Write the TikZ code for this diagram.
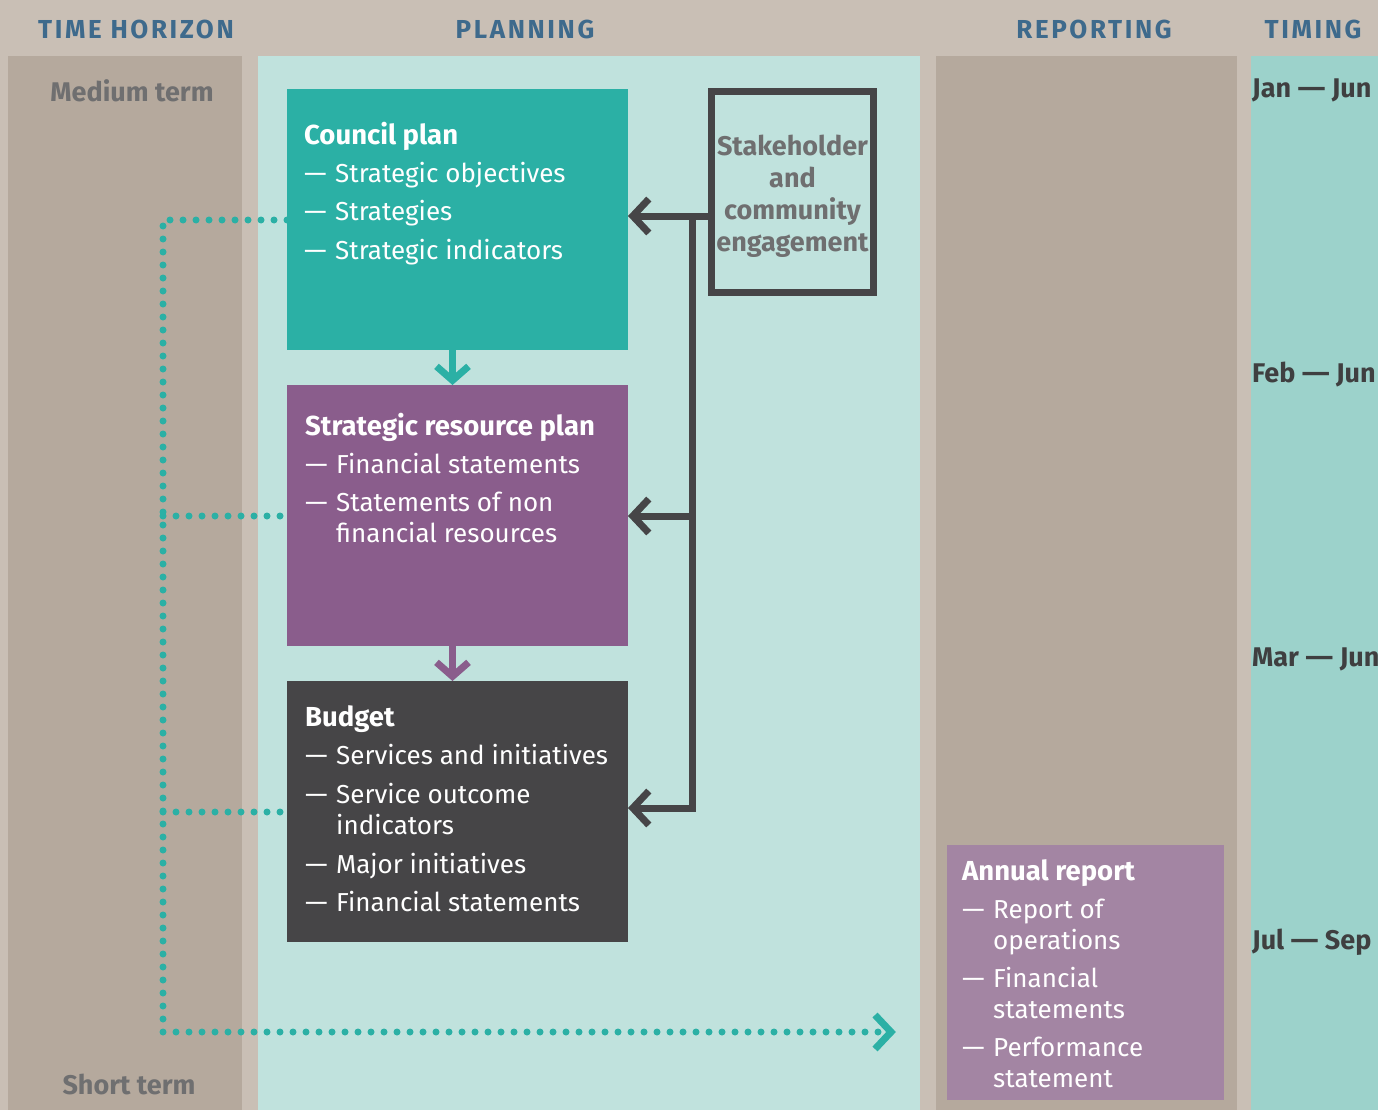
\documentclass[tikz,border=0pt]{standalone}
\usepackage{fontspec}
\setmainfont{Fira Sans}
\usetikzlibrary{arrows.meta}
\definecolor{bgtaupe}{HTML}{C9BFB5}
\definecolor{coltaupe}{HTML}{B5A99D}
\definecolor{planteal}{HTML}{C0E2DD}
\definecolor{timingteal}{HTML}{9CD2CB}
\definecolor{headblue}{HTML}{3E6A8C}
\definecolor{medgray}{HTML}{6F6F70}
\definecolor{councilteal}{HTML}{2BB0A5}
\definecolor{srppurple}{HTML}{8A5D8C}
\definecolor{budgetgray}{HTML}{464547}
\definecolor{reportpurple}{HTML}{A385A3}
\definecolor{dategray}{HTML}{3F3F40}
\newcommand{\longdash}{\scalebox{1.3}[1]{—}}
\newcommand{\dashitem}{\makebox[31pt][l]{\scalebox{1.1}[1]{—}}}
\newcommand{\contline}{\hspace*{31pt}}
\newcommand{\boxtitle}[1]{{\fontsize{27.5}{31}\selectfont\bfseries #1}}
\tikzset{
    heading/.style={text=headblue, inner sep=0pt, font=\fontsize{26}{30}\selectfont\bfseries\addfontfeature{LetterSpace=10}},
    termlabel/.style={text=medgray, inner sep=0pt, font=\fontsize{27}{31}\selectfont\bfseries},
    datelabel/.style={text=dategray, anchor=west, inner sep=0pt, font=\fontsize{27}{31}\selectfont\bfseries},
    planbox/.style={anchor=north west, minimum width=341pt, minimum height=261pt, inner sep=0pt, outer sep=0pt},
    boxtext/.style={anchor=north west, inner sep=0pt, text=white, align=left, font=\fontsize{26}{31}\selectfont},
    engagebox/.style={draw=budgetgray, line width=7pt, minimum width=162pt, minimum height=201pt, inner sep=0pt},
    engagetext/.style={inner sep=0pt, align=center, text=medgray, font=\fontsize{27}{32}\selectfont\bfseries},
    feed/.style={draw=budgetgray, line width=7pt, line join=miter},
    feedtip/.style={-{Straight Barb[length=16pt,width=34pt]}},
    flow/.style={line width=7pt, -{Straight Barb[length=14pt,width=32pt]}},
    dotline/.style={draw=councilteal, line width=7pt, line cap=round, dash pattern=on 0pt off 13pt},
}
\begin{document}
\begin{tikzpicture}[x=1pt,y=-1pt]
    \useasboundingbox (0,0) rectangle (1378,1110);
    \fill[bgtaupe] (0,0) rectangle (1378,1110);
    % columns
    \fill[coltaupe] (8,56) rectangle (242,1110);
    \fill[planteal] (258,56) rectangle (920,1110);
    \fill[coltaupe] (936,56) rectangle (1237,1110);
    \fill[timingteal] (1251,56) rectangle (1378,1110);

    \node[heading] (horizon) at (136,29) {TIME HORIZON};
    \node[heading] (planning) at (525,29) {PLANNING};
    \node[heading] (reporting) at (1094,29) {REPORTING};
    \node[heading] (timing) at (1313,29) {TIMING};

    \node[termlabel] (medium) at (132,91) {Medium term};
    \node[termlabel] (short) at (129,1084) {Short term};

    % planning boxes
    \node[planbox, fill=councilteal] (council) at (287,89) {};
    \node[planbox, fill=srppurple] (srp) at (287,385) {};
    \node[planbox, fill=budgetgray] (budget) at (287,681) {};
    \node[boxtext] (council text) at (304,121.5) {\boxtitle{Council plan}\\[7pt]
        \dashitem Strategic objectives\\[7pt]
        \dashitem Strategies\\[8pt]
        \dashitem Strategic indicators};
    \node[boxtext] (srp text) at (305,412.5) {\boxtitle{Strategic resource plan}\\[7pt]
        \dashitem Financial statements\\[7pt]
        \dashitem Statements of non\\
        \contline financial resources};
    \node[boxtext] (budget text) at (305,705.5) {\boxtitle{Budget}\\[7pt]
        \dashitem Services and initiatives\\[8pt]
        \dashitem Service outcome\\
        \contline indicators\\[8pt]
        \dashitem Major initiatives\\[7pt]
        \dashitem Financial statements};
    \draw[flow, councilteal] ([xshift=-5pt]council.south) -- ([xshift=-5pt]srp.north);
    \draw[flow, srppurple] ([xshift=-5pt]srp.south) -- ([xshift=-5pt]budget.north);

    % engagement feeding the three plans
    \node[engagebox] (engage) at (792.5,192) {};
    \node[engagetext] (engage text) at (792.5,196) {Stakeholder\\and\\community\\engagement};
    \coordinate (spine top) at (692,216);
    \coordinate (spine mid) at (692,516);
    \coordinate (spine low) at (692,808);
    \draw[feed, feedtip] (engage.west |- spine top) -- (council.east |- spine top);
    \draw[feed, feedtip] (spine top) -- (spine low) -- (budget.east |- spine low);
    \draw[feed, feedtip] (spine mid) -- (srp.east |- spine mid);

    % dotted link to reporting
    \coordinate (dot top) at (163,220);
    \coordinate (dot srp) at (163,516);
    \coordinate (dot budget) at (163,812);
    \coordinate (dot low) at (163,1032);
    \coordinate (dot end) at (893,1032);
    \draw[dotline] (council.west |- dot top) -- (dot top) -- (dot low) -- (dot end);
    \draw[dotline] (dot srp) -- (srp.west |- dot srp);
    \draw[dotline] (dot budget) -- (budget.west |- dot budget);
    \draw[councilteal, line width=7pt, line join=miter] (875,1015) -- (891,1032) -- (875,1049);

    % reporting
    \node[planbox, fill=reportpurple, minimum width=277pt, minimum height=255pt] (annual) at (947,845) {};
    \node[boxtext] (annual text) at (962,859.5) {\boxtitle{Annual report}\\[7pt]
        \dashitem Report of\\
        \contline operations\\[7pt]
        \dashitem Financial\\
        \contline statements\\[7pt]
        \dashitem Performance\\
        \contline statement};

    % timing
    \node[datelabel] (jan) at (1252,90) {Jan \longdash\ Jun};
    \node[datelabel] (feb) at (1252,375) {Feb \longdash\ Jun};
    \node[datelabel] (mar) at (1252,659) {Mar \longdash\ Jun};
    \node[datelabel] (jul) at (1252,942) {Jul \longdash\ Sep};
\end{tikzpicture}
\end{document}
